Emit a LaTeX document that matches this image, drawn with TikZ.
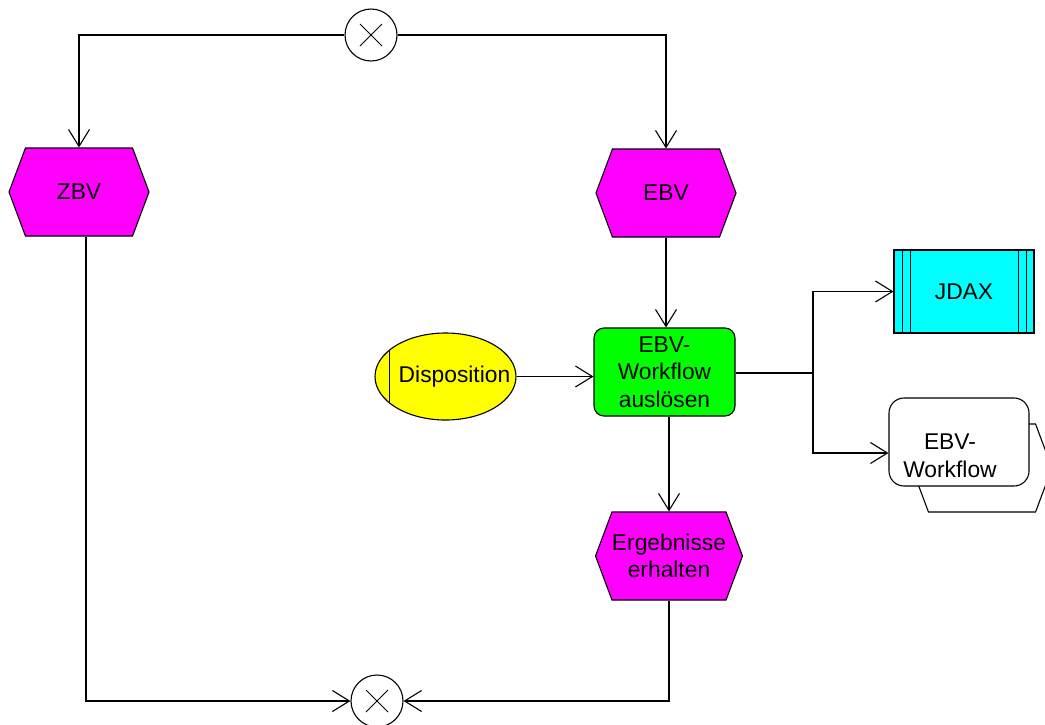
\documentclass[tikz,border=0pt]{standalone}
\usepackage{fontspec}
\setmainfont{Liberation Sans}
\usetikzlibrary{arrows.meta,shapes.symbols,shapes.geometric}
\definecolor{evmag}{RGB}{255,0,255}
\definecolor{fngreen}{RGB}{0,255,0}
\definecolor{orgyellow}{RGB}{255,255,0}
\definecolor{syscyan}{RGB}{0,255,255}
\begin{document}
\begin{tikzpicture}[x=1pt,y=-1pt,
  line width=1.1pt,
  font=\fontsize{22.8pt}{27.5pt}\selectfont,
  arr/.style={-{Straight Barb[length=17pt,width=21pt]}},
  event/.style={shape=signal, signal to=west and east, signal pointer angle=139,
    draw, fill=evmag, minimum width=140pt, minimum height=88pt, inner sep=0pt, align=center},
  func/.style={rectangle, rounded corners=10pt, draw, fill=fngreen,
    minimum width=141pt, minimum height=88pt, inner sep=0pt, align=center},
  xorgate/.style={circle, draw, fill=white, minimum size=52pt, inner sep=0pt,
    path picture={
      \draw[line width=0.8pt] ([xshift=-11pt,yshift=-11pt]path picture bounding box.center)
        -- ([xshift=11pt,yshift=11pt]path picture bounding box.center);
      \draw[line width=0.8pt] ([xshift=-11pt,yshift=11pt]path picture bounding box.center)
        -- ([xshift=11pt,yshift=-11pt]path picture bounding box.center);}},
  orgunit/.style={ellipse, draw, fill=orgyellow, minimum width=141pt, minimum height=87pt, inner sep=0pt,
    path picture={
      \draw[line width=0.8pt] ([xshift=14pt]path picture bounding box.north west)
        -- ([xshift=14pt]path picture bounding box.south west);}},
  appsys/.style={rectangle, draw, fill=syscyan, minimum width=140pt, minimum height=83pt, inner sep=0pt,
    path picture={
      \foreach \d in {8,16}{
        \draw[line width=0.8pt] ([xshift=\d pt]path picture bounding box.north west)
          -- ([xshift=\d pt]path picture bounding box.south west);
        \draw[line width=0.8pt] ([xshift=-\d pt]path picture bounding box.north east)
          -- ([xshift=-\d pt]path picture bounding box.south east);}}},
]
\useasboundingbox (0,0) rectangle (1045,724);

% operators
\node[xorgate] (xt) at (371,35) {};
\node[xorgate] (xb) at (377,701) {};

% events
\node[event] (zbv) at (79,192) {ZBV};
\node[event] (ebv) at (666,193) {EBV};
\node[event] (erg) at (669,556) {Ergebnisse\\erhalten};

% function
\node[func] (wf) at (664.5,372) {EBV-\\Workflow\\auslösen};

% organisational unit
\node[orgunit, label={[xshift=9pt, inner sep=0pt]center:Disposition}] (disp) at (445.5,376.5) {};

% application system
\node[appsys] (jdax) at (964,291.5) {JDAX};

% process path: event hexagon behind a function box
\node[event, fill=white] (wfback) at (982,468) {};
\node[func, fill=white, rounded corners=15pt, minimum width=140pt] (wfp) at (959,442) {};
\node[align=center, inner sep=0pt] (wfptext) at (950,456) {EBV-\\Workflow};

% branching point
\coordinate (br) at (813,373);

% flow
\draw[arr] (xt.west) -| (zbv.north);
\draw[arr] (xt.east) -| (ebv.north);
\draw[arr] (ebv.south) -- (ebv.south |- wf.north);
\draw[arr] (disp.east) -- (disp.east -| wf.west);
\draw[line width=2pt] (wf.east |- br) -- (br);
\draw[arr] (br) |- (jdax.west);
\draw[arr] (br) |- ([yshift=-11pt]wfp.west);
\draw[arr] (erg.north |- wf.south) -- (erg.north);
\draw[arr] ([xshift=7pt]zbv.south) |- (xb.west);
\draw[arr] (erg.south) |- (xb.east);
\end{tikzpicture}
\end{document}
